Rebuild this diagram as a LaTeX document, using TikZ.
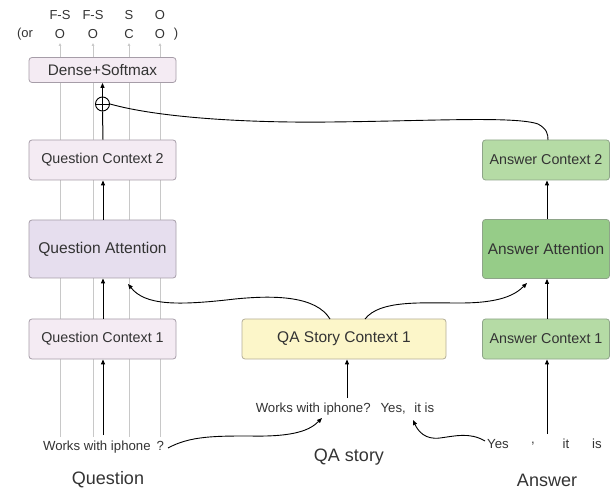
\documentclass[tikz,border=0pt]{standalone}
\usepackage{fontspec}
\setmainfont{Liberation Sans}
\usetikzlibrary{arrows.meta}
\definecolor{txt}{HTML}{333333}
\definecolor{qfill}{HTML}{F4EBF3}
\definecolor{qafill}{HTML}{E6DEEE}
\definecolor{qdraw}{HTML}{A69DA8}
\definecolor{sfill}{HTML}{FCF6C9}
\definecolor{sdraw}{HTML}{B3AE98}
\definecolor{afill}{HTML}{B5DBA5}
\definecolor{aafill}{HTML}{96CC88}
\definecolor{adraw}{HTML}{8EA489}
\definecolor{col}{HTML}{C8C8C8}
\tikzset{
  box/.style={rectangle, rounded corners=3pt, line width=0.8pt, text=txt, font=\fontsize{14.3}{16}\selectfont, inner sep=0pt},
  qbox/.style={box, fill=qfill, draw=qdraw, minimum width=147pt, minimum height=40pt},
  qabox/.style={box, fill=qafill, draw=qdraw, minimum width=147pt, minimum height=58pt, font=\fontsize{15.6}{18}\selectfont},
  sbox/.style={box, fill=sfill, draw=sdraw, minimum width=204pt, minimum height=40pt, font=\fontsize{15.5}{18}\selectfont},
  abox/.style={box, fill=afill, draw=adraw, minimum width=127pt, minimum height=40pt},
  aabox/.style={box, fill=aafill, draw=adraw, minimum width=127pt, minimum height=59pt, font=\fontsize{15.4}{18}\selectfont},
  word/.style={text=txt, font=\fontsize{13.2}{15}\selectfont, inner sep=1pt},
  lab/.style={text=txt, font=\fontsize{18}{20}\selectfont, inner sep=0pt},
  outl/.style={text=txt, font=\fontsize{13}{15}\selectfont, inner sep=0pt},
  arr/.style={-{Triangle[length=5pt,width=4pt]}, line width=1pt, black},
  curve/.style={line width=0.9pt, black},
  carr/.style={curve, -{Triangle[length=5pt,width=4pt]}},
  colline/.style={col, line width=0.8pt},
  garr/.style={col, line width=0.8pt, -{Triangle[length=3pt,width=2.5pt]}}
}
\begin{document}
\begin{tikzpicture}[x=1pt,y=-1pt]
\useasboundingbox (0,0) rectangle (611,489);
% column lines
\foreach \cx/\nm in {60/a,93/b,129/c,160/d}{
  \coordinate (top\nm) at (\cx,83);
  \coordinate (bot\nm) at (\cx,437);
  \coordinate (out\nm) at (\cx,43);
  \draw[colline] (top\nm) -- (bot\nm);
}
% boxes
\node[qbox, minimum height=25pt, font=\fontsize{15.3}{17}\selectfont] (dense) at (102.5,70) {Dense+Softmax};
\node[qbox] (qc2) at (102.5,160) {Question Context 2};
\node[qabox] (qa) at (102.5,249) {Question Attention};
\node[qbox] (qc1) at (102.5,339) {Question Context 1};
\node[sbox] (sc) at (344,339) {QA Story Context 1};
\node[abox] (ac2) at (546,160) {Answer Context 2};
\node[aabox] (aa) at (546,249) {Answer Attention};
\node[abox] (ac1) at (546,339) {Answer Context 1};
% output arrows and labels
\foreach \nm in {a,b,c,d}{
  \draw[garr] (dense.north -| top\nm) -- (out\nm);
}
\node[outl] (fs1) at (60,15) {F-S};
\node[outl] (fs2) at (93,15) {F-S};
\node[outl] (s3) at (129,15) {S};
\node[outl] (o4) at (160,15) {O};
\node[outl] (or) at (25,34) {(or};
\node[outl] (o1) at (60,34) {O};
\node[outl] (o2) at (93,34) {O};
\node[outl] (c3) at (129,34) {C};
\node[outl] (o5) at (160,34) {O};
\node[outl] (cl) at (176,34) {)};
% plus circle
\node[circle, draw=black, line width=0.9pt, minimum size=14pt, inner sep=0pt] (plus) at (102.5,104) {};
\draw[line width=0.9pt] (plus.north) -- (plus.south) (plus.west) -- (plus.east);
% words
\node[word] (qtext) at (103.5,447) {Works with iphone\hspace{6pt}?};
\node[word] (stext) at (345,409) {Works with iphone?\hspace{5pt} Yes,\hspace{5pt} it is};
\node[word] (yes) at (498,444) {Yes};
\node[word] (comma) at (533,444) {,};
\node[word] (it) at (566,444) {it};
\node[word] (is) at (597,444) {is};
\node[lab] (lq) at (108,480) {Question};
\node[lab] (ls) at (349,457) {QA story};
\node[lab] (la) at (547,480) {Answer};
% vertical arrows
\coordinate (qstart) at (103,435);
\coordinate (astart) at (547,434);
\coordinate (sstart) at (347,398);
\draw[arr] (qstart) -- (qstart |- qc1.south);
\draw[arr] (qc1.north -| qstart) -- (qa.south -| qstart);
\draw[arr] (qa.north -| qstart) -- (qc2.south -| qstart);
\draw[line width=1pt] (qc2.north -| qstart) -- (plus.south);
\draw[arr] (plus.north) -- (dense.south -| plus);
\draw[arr] (sstart) -- (sstart |- sc.south);
\draw[arr] (astart) -- (astart |- ac1.south);
\draw[arr] (ac1.north -| astart) -- (aa.south -| astart);
\draw[arr] (aa.north -| astart) -- (ac2.south -| astart);
% curves
\coordinate (qqend) at (168,448);
\coordinate (stip1) at (322,418);
\coordinate (stip2) at (413,420);
\coordinate (yesw) at (485,441);
\coordinate (sct1) at (330,319);
\coordinate (sct2) at (365,319);
\coordinate (qatip) at (128,284);
\coordinate (aatip) at (527,283);
\coordinate (ac2top) at (548,140);
\draw[carr] (qqend) .. controls (190,436) and (215,436) .. (250,436) .. controls (295,437) and (310,430) .. (stip1);
\draw[carr] (yesw) .. controls (470,432) and (455,436) .. (440,438) .. controls (425,440) and (418,431) .. (stip2);
\draw[carr] (sct1) .. controls (316,296) and (275,295) .. (235,299) .. controls (175,306) and (145,305) .. (qatip);
\draw[carr] (sct2) .. controls (380,300) and (420,303) .. (460,303) .. controls (500,303) and (515,295) .. (aatip);
\draw[curve] (plus.east) .. controls (160,118) and (250,123) .. (330,122) .. controls (430,121) and (515,116) .. (538,124) .. controls (547,129) and (548,134) .. (ac2top);
\end{tikzpicture}
\end{document}
